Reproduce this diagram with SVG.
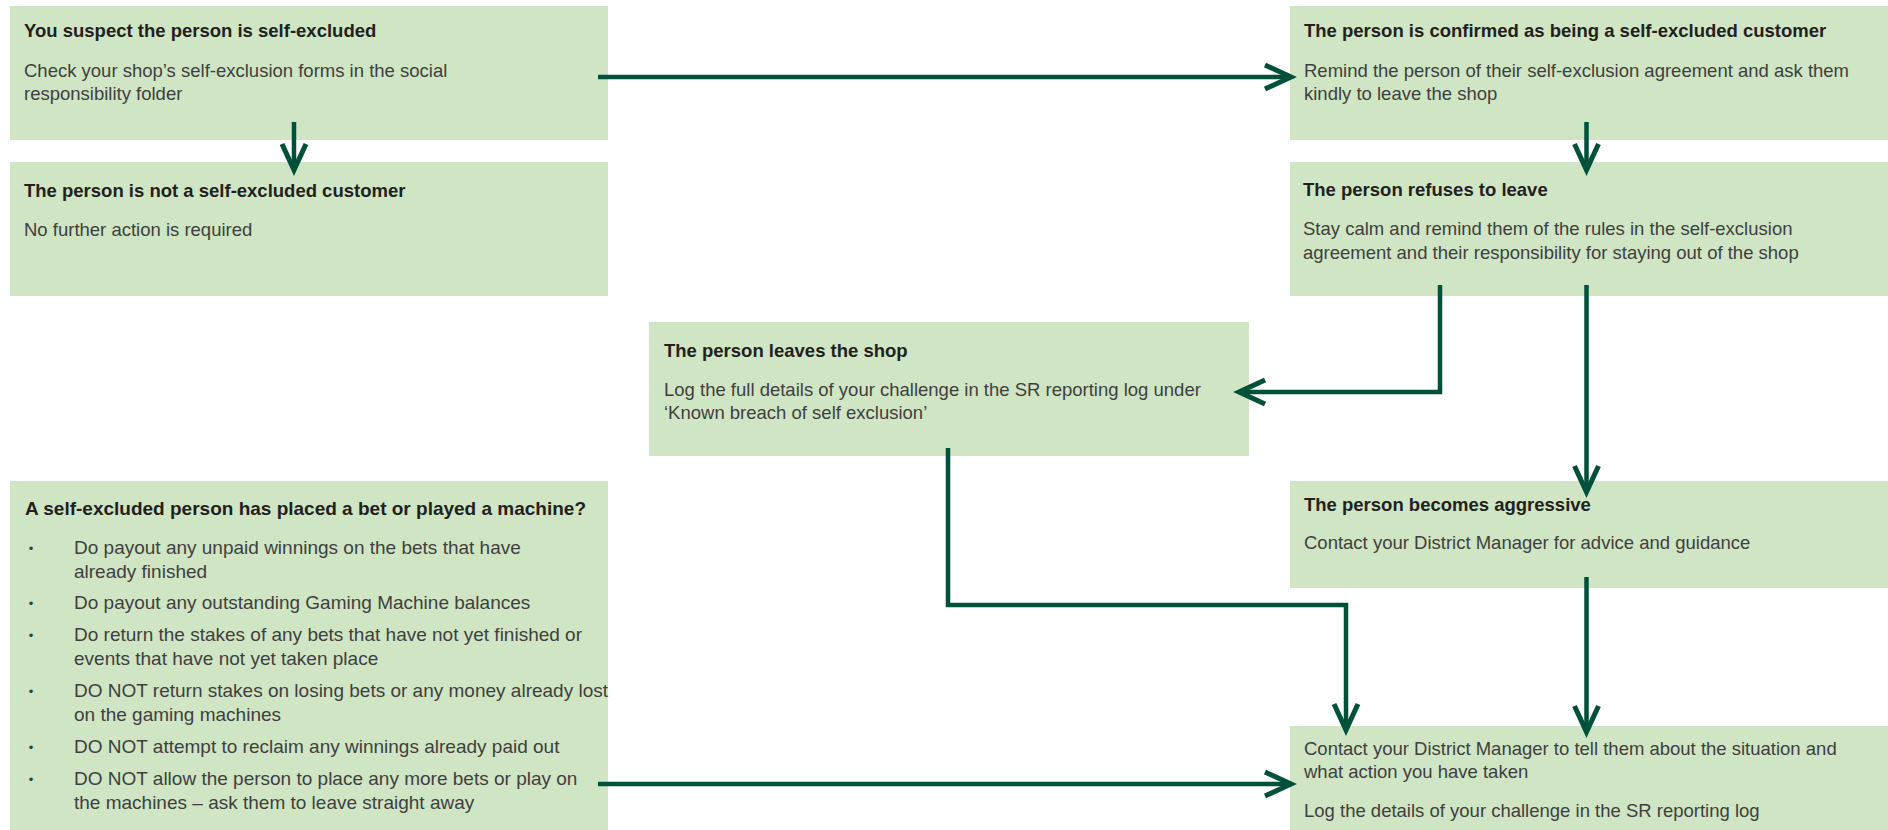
<svg xmlns="http://www.w3.org/2000/svg" width="1888" height="830" viewBox="0 0 1888 830">
<style>
.box{fill:#cfe5c4}
.t{font-family:"Liberation Sans",Arial,sans-serif;font-size:18.5px;font-weight:bold;fill:#231f20}
.b{font-family:"Liberation Sans",Arial,sans-serif;font-size:18.5px;fill:#3f3f3f}
#n6 .t,#n6 .b{font-size:19px}
.bul{font-family:"Liberation Sans",Arial,sans-serif;font-size:13px;fill:#3f3f3f;text-anchor:middle}
.c{fill:none;stroke:#00503a;stroke-width:4.5;stroke-linejoin:miter}
</style>
<defs>
<marker id="ah" markerUnits="userSpaceOnUse" orient="auto" markerWidth="40" markerHeight="40" refX="0" refY="0" overflow="visible">
<path d="M-26,-12 L0,0 L-26,12" fill="none" stroke="#00503a" stroke-width="5" stroke-linejoin="miter" stroke-miterlimit="10"/>
</marker>
</defs>
<rect width="1888" height="830" fill="#ffffff"/>
<g id="n1">
<rect class="box" x="10" y="6" width="598" height="134"/>
<text class="t" x="24" y="37">You suspect the person is self-excluded</text>
<text class="b" x="24" y="77">Check your shop’s self-exclusion forms in the social</text>
<text class="b" x="24" y="100">responsibility folder</text>
</g>
<g id="n2">
<rect class="box" x="10" y="162" width="598" height="134"/>
<text class="t" x="24" y="197">The person is not a self-excluded customer</text>
<text class="b" x="24" y="236">No further action is required</text>
</g>
<g id="n3">
<rect class="box" x="1290" y="6" width="598" height="134"/>
<text class="t" x="1304" y="37">The person is confirmed as being a self-excluded customer</text>
<text class="b" x="1304" y="77">Remind the person of their self-exclusion agreement and ask them</text>
<text class="b" x="1304" y="100">kindly to leave the shop</text>
</g>
<g id="n4">
<rect class="box" x="1290" y="162" width="598" height="134"/>
<text class="t" x="1303" y="196">The person refuses to leave</text>
<text class="b" x="1303" y="235">Stay calm and remind them of the rules in the self-exclusion</text>
<text class="b" x="1303" y="259">agreement and their responsibility for staying out of the shop</text>
</g>
<g id="n5">
<rect class="box" x="649" y="322" width="600" height="134"/>
<text class="t" x="664" y="357">The person leaves the shop</text>
<text class="b" x="664" y="396">Log the full details of your challenge in the SR reporting log under</text>
<text class="b" x="664" y="419">‘Known breach of self exclusion’</text>
</g>
<g id="n6">
<rect class="box" x="10" y="481" width="598" height="349"/>
<text class="t" x="25" y="515">A self-excluded person has placed a bet or played a machine?</text>
<text class="bul" x="31" y="553">•</text>
<text class="b" x="74" y="554">Do payout any unpaid winnings on the bets that have</text>
<text class="b" x="74" y="578">already finished</text>
<text class="bul" x="31" y="608">•</text>
<text class="b" x="74" y="609">Do payout any outstanding Gaming Machine balances</text>
<text class="bul" x="31" y="640">•</text>
<text class="b" x="74" y="641">Do return the stakes of any bets that have not yet finished or</text>
<text class="b" x="74" y="665">events that have not yet taken place</text>
<text class="bul" x="31" y="696">•</text>
<text class="b" x="74" y="697">DO NOT return stakes on losing bets or any money already lost</text>
<text class="b" x="74" y="721">on the gaming machines</text>
<text class="bul" x="31" y="752">•</text>
<text class="b" x="74" y="753">DO NOT attempt to reclaim any winnings already paid out</text>
<text class="bul" x="31" y="784">•</text>
<text class="b" x="74" y="785">DO NOT allow the person to place any more bets or play on</text>
<text class="b" x="74" y="809">the machines – ask them to leave straight away</text>
</g>
<g id="n7">
<rect class="box" x="1290" y="481" width="598" height="107"/>
<text class="t" x="1304" y="511">The person becomes aggressive</text>
<text class="b" x="1304" y="549">Contact your District Manager for advice and guidance</text>
</g>
<g id="n8">
<rect class="box" x="1290" y="726" width="598" height="104"/>
<text class="b" x="1304" y="755">Contact your District Manager to tell them about the situation and</text>
<text class="b" x="1304" y="778">what action you have taken</text>
<text class="b" x="1304" y="817">Log the details of your challenge in the SR reporting log</text>
</g>
<g id="connectors">
<path class="c" d="M598,77 H1291" marker-end="url(#ah)"/>
<path class="c" d="M294,122 V170" marker-end="url(#ah)"/>
<path class="c" d="M1586.5,122 V170" marker-end="url(#ah)"/>
<path class="c" d="M1440,285 V392 H1239" marker-end="url(#ah)"/>
<path class="c" d="M1586.5,285 V492" marker-end="url(#ah)"/>
<path class="c" d="M948,448 V605 H1346 V730" marker-end="url(#ah)"/>
<path class="c" d="M1586.5,577 V732" marker-end="url(#ah)"/>
<path class="c" d="M598,784 H1291" marker-end="url(#ah)"/>
</g>
</svg>
